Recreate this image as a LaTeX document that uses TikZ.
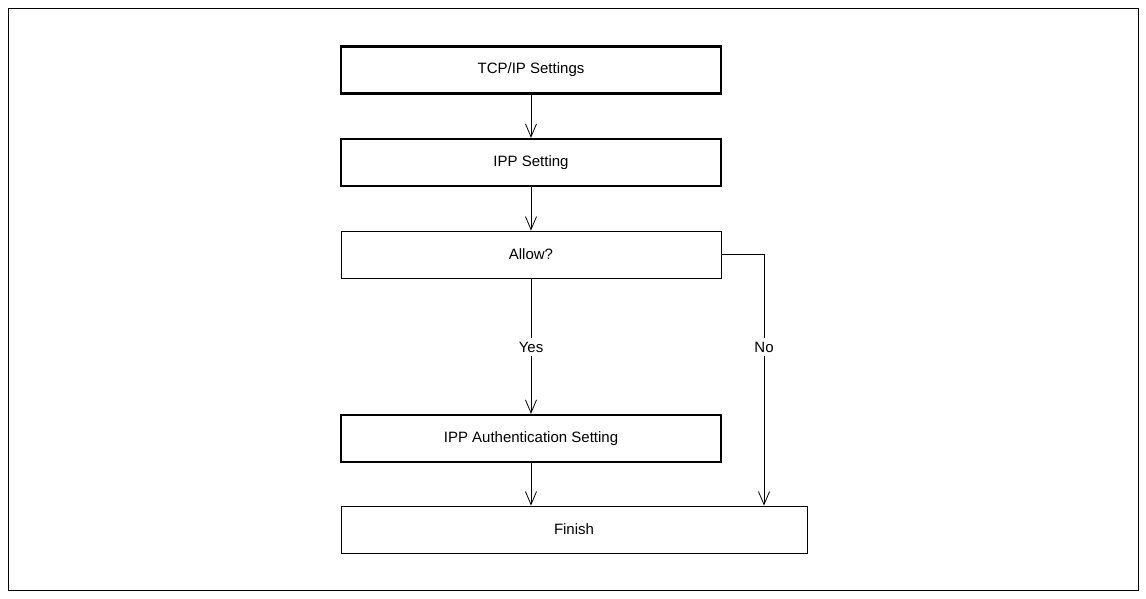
\documentclass[tikz,border=0pt]{standalone}
\usepackage{fontspec}
\setmainfont{Liberation Sans}
\usetikzlibrary{arrows.meta,positioning}
\begin{document}
\begin{tikzpicture}[
    x=1pt, y=-1pt,
    box/.style={rectangle, draw, minimum width=380pt, minimum height=47pt, inner sep=0pt, font=\fontsize{15}{18}\selectfont},
    stepbox/.style={box, line width=2.2pt},
    checkbox/.style={box, line width=0.8pt},
    arrow/.style={-{Straight Barb[open, length=13pt, width=11pt, line width=0.8pt]}, line width=0.8pt},
    label/.style={font=\fontsize{15}{18}\selectfont}
  ]
  \useasboundingbox (0,0) rectangle (1146,598);
  \draw[line width=0.8pt] (8,8) rectangle (1138,590);

  % Steps
  \node[stepbox] (tcpip) at (531,70) {TCP/IP Settings};
  \node[stepbox] (ipp) at (531,162.5) {IPP Setting};
  \node[checkbox] (allow) at (531,254.5) {Allow?};
  \node[stepbox] (auth) at (531,438.5) {IPP Authentication Setting};
  \node[checkbox, minimum width=466pt] (finish) at (574,529.5) {Finish};

  % Labels
  \node[label] (yes) at (531,347) {Yes};
  \node[label] (no) at (764,347) {No};
  \coordinate (corner) at (764,254.5);

  % Arrows
  \draw[arrow] (tcpip) -- (ipp);
  \draw[arrow] (ipp) -- (allow);
  \draw[line width=0.8pt] (allow) -- (yes);
  \draw[arrow] (yes) -- (auth);
  \draw[arrow] (auth) -- (auth.south |- finish.north);
  \draw[line width=0.8pt] (allow.east) -- (corner) -- (no);
  \draw[arrow] (no) -- (no |- finish.north);
\end{tikzpicture}
\end{document}
